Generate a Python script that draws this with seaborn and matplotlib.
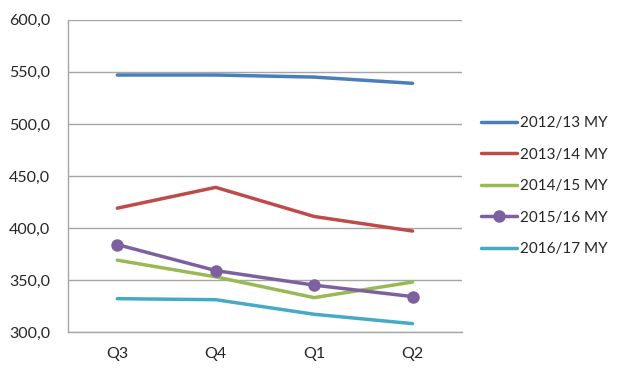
import matplotlib
matplotlib.use("Agg")
import matplotlib.pyplot as plt
import seaborn as sns
import pandas as pd
from matplotlib.ticker import FuncFormatter, FixedLocator

quarters = ["Q3", "Q4", "Q1", "Q2"]
my_2012 = [547, 547, 545, 539]
my_2013 = [419, 439, 411, 397]
my_2014 = [369, 353, 333, 348]
my_2015 = [384, 359, 345, 334]
my_2016 = [332, 331, 317, 308]

series = {
    "2012/13 MY": my_2012,
    "2013/14 MY": my_2013,
    "2014/15 MY": my_2014,
    "2015/16 MY": my_2015,
    "2016/17 MY": my_2016,
}
colors = ["#4A7EBB", "#BE4B48", "#98B954", "#7D60A0", "#46AAC5"]

sns.set_style("white")
plt.rcParams["font.family"] = ["Lato", "DejaVu Sans"]

fig = plt.figure(figsize=(6.19, 3.82), dpi=100)
ax = fig.add_axes([0.11, 0.131, 0.636, 0.817])

for (name, vals), col in zip(series.items(), colors):
    df = pd.DataFrame({"Quarter": quarters, "Value": vals})
    sns.lineplot(data=df, x="Quarter", y="Value", ax=ax, color=col, linewidth=2.5,
                 label=name, marker="o" if name == "2015/16 MY" else None,
                 markersize=9, markeredgewidth=0)

ax.set_xlim(-0.5, 3.5)
ax.set_ylim(300, 600)
ax.set_yticks(range(300, 601, 50))
ax.yaxis.set_major_formatter(FuncFormatter(lambda v, p: f"{v:.1f}".replace(".", ",")))
ax.xaxis.set_minor_locator(FixedLocator([-0.5, 0.5, 1.5, 2.5, 3.5]))
ax.tick_params(axis="x", which="major", length=0, pad=11, labelsize=11.5)
ax.tick_params(axis="x", which="minor", length=5, color="#A0A0A0", direction="out")
ax.tick_params(axis="y", length=0, labelsize=11.5, pad=13)
ax.grid(axis="y", color="#A6A6A6", linewidth=1)
ax.set_xlabel("")
ax.set_ylabel("")
for s in ["top", "right"]:
    ax.spines[s].set_visible(False)
for s in ["left", "bottom"]:
    ax.spines[s].set_color("#A6A6A6")
    ax.spines[s].set_linewidth(1)

ax.legend(loc="center left", bbox_to_anchor=(1.015, 0.467), frameon=False,
          fontsize=11, labelspacing=1.14, handlelength=2.3, handletextpad=0.2)

fig.savefig("out.png", dpi=100)
